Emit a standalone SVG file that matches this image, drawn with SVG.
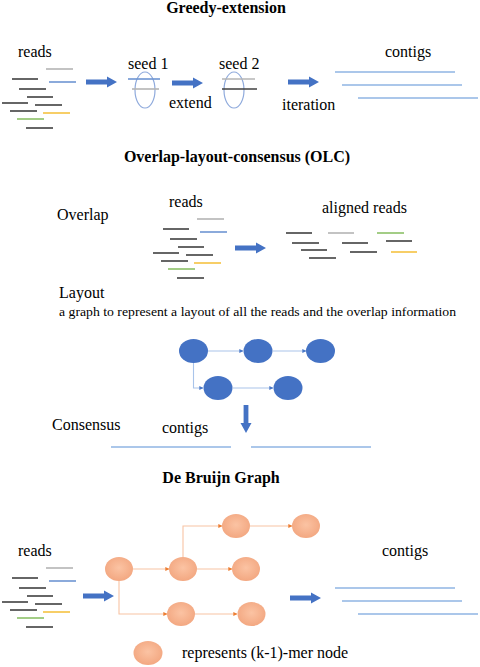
<svg xmlns="http://www.w3.org/2000/svg" width="480" height="667" viewBox="0 0 480 667" font-family="'Liberation Serif', 'DejaVu Serif', serif">
<defs>
<style>
text{font-family:"Liberation Serif","DejaVu Serif",serif;fill:#000}
.t{font-weight:bold;font-size:16px;text-anchor:middle}
.l{font-size:16px}
.s{font-size:13px}
.r{stroke-width:1.6;fill:none}
.dk{stroke:#404040}
.gy{stroke:#b4b4b4}
.bl{stroke:#6f95d2}
.gn{stroke:#8cc168}
.yl{stroke:#f5c242}
.ct{stroke:#8fb4e3;stroke-width:1.6;fill:none}
.big{fill:#4472c4}
.bn{fill:#4472c4}
.on{fill:url(#og)}
.bc{stroke:#a9c4ea;stroke-width:1.1;fill:none;marker-end:url(#ba)}
.oc{stroke:#f8c4a4;stroke-width:1.1;fill:none;marker-end:url(#oa)}
.seed{fill:none;stroke:#8faadc;stroke-width:1.2}
</style>
<radialGradient id="og" cx="50%" cy="45%" r="60%">
<stop offset="0" stop-color="#fbc3a3"/>
<stop offset="1" stop-color="#f2a57e"/>
</radialGradient>
<marker id="ba" viewBox="0 0 6 6" refX="5.5" refY="3" markerWidth="4" markerHeight="4" orient="auto" markerUnits="userSpaceOnUse">
<path d="M0,0L6,3L0,6z" fill="#4a78c8"/>
</marker>
<marker id="oa" viewBox="0 0 6 6" refX="5.5" refY="3" markerWidth="4" markerHeight="4" orient="auto" markerUnits="userSpaceOnUse">
<path d="M0,0L6,3L0,6z" fill="#ed7d31"/>
</marker>
<g id="readset">
<line class="r gy" x1="46" y1="69" x2="73" y2="69"/>
<line class="r dk" x1="12" y1="79" x2="38" y2="79"/>
<line class="r bl" x1="49" y1="82" x2="76" y2="82"/>
<line class="r dk" x1="19" y1="89" x2="46" y2="89"/>
<line class="r dk" x1="27" y1="97" x2="53" y2="97"/>
<line class="r dk" x1="2" y1="103" x2="28" y2="103"/>
<line class="r dk" x1="35" y1="105" x2="62" y2="105"/>
<line class="r dk" x1="10" y1="111" x2="37" y2="111"/>
<line class="r yl" x1="43" y1="113" x2="70" y2="113"/>
<line class="r gn" x1="17" y1="119" x2="44" y2="119"/>
<line class="r dk" x1="26" y1="128" x2="53" y2="128"/>
</g>
<g id="contigset">
<line class="ct" x1="335" y1="72" x2="455" y2="72"/>
<line class="ct" x1="342" y1="85" x2="462" y2="85"/>
<line class="ct" x1="358" y1="98" x2="478" y2="98"/>
</g>
<path id="rarrow" d="M0,-2.6H21V-5.5L31,0L21,5.5V2.6H0z"/>
</defs>
<rect width="480" height="667" fill="#fff"/>

<!-- Greedy-extension -->
<g id="greedy">
<text class="t" x="226" y="13">Greedy-extension</text>
<text class="l" x="18" y="57">reads</text>
<use href="#readset"/>
<use href="#rarrow" class="big" x="86" y="82"/>
<g id="seed1">
<text class="l" x="128" y="69">seed 1</text>
<ellipse class="seed" cx="145" cy="90" rx="10" ry="18"/>
<line class="r bl" x1="128" y1="79" x2="160" y2="79"/>
<line class="r gy" x1="132" y1="89" x2="159" y2="89"/>
</g>
<use href="#rarrow" class="big" x="172" y="83"/>
<text class="l" x="169" y="108">extend</text>
<g id="seed2">
<text class="l" x="219" y="69">seed 2</text>
<ellipse class="seed" cx="234" cy="90" rx="10" ry="18"/>
<line class="r gy" x1="222" y1="79" x2="255" y2="79"/>
<line class="r dk" x1="222" y1="89" x2="257" y2="89"/>
</g>
<use href="#rarrow" class="big" x="288" y="82"/>
<text class="l" x="282" y="110">iteration</text>
<text class="l" x="385" y="57">contigs</text>
<use href="#contigset"/>
</g>

<!-- OLC -->
<g id="olc">
<text class="t" x="237" y="162">Overlap-layout-consensus (OLC)</text>
<text class="l" x="57" y="220">Overlap</text>
<text class="l" x="169" y="207">reads</text>
<use href="#readset" x="151" y="150"/>
<use href="#rarrow" class="big" x="235" y="248"/>
<text class="l" x="322" y="213">aligned reads</text>
<g id="aligned">
<line class="r dk" x1="286" y1="233" x2="312" y2="233"/>
<line class="r gy" x1="328" y1="233" x2="354" y2="233"/>
<line class="r gn" x1="377" y1="233" x2="404" y2="233"/>
<line class="r dk" x1="292" y1="243" x2="319" y2="243"/>
<line class="r dk" x1="342" y1="243" x2="368" y2="243"/>
<line class="r dk" x1="386" y1="241" x2="412" y2="241"/>
<line class="r dk" x1="301" y1="250" x2="327" y2="250"/>
<line class="r dk" x1="350" y1="252" x2="377" y2="252"/>
<line class="r yl" x1="391" y1="252" x2="417" y2="252"/>
<line class="r dk" x1="309" y1="258" x2="336" y2="258"/>
</g>
<text class="l" x="59" y="298">Layout</text>
<text class="s" x="59" y="316" textLength="397" lengthAdjust="spacingAndGlyphs">a graph to represent a layout of all the reads and the overlap information</text>
<text class="l" x="52" y="430">Consensus</text>
<text class="l" x="162" y="433">contigs</text>
<line class="ct" x1="111" y1="447" x2="231" y2="447"/>
<line class="ct" x1="251" y1="447" x2="371" y2="447"/>
<path class="big" d="M243.6,405H248.4V423H251.5L246,433L240.5,423H243.6z"/>
</g>

<g id="olc-connectors">
<line class="bc" x1="208" y1="351" x2="243" y2="351"/>
<line class="bc" x1="273" y1="351" x2="306" y2="351"/>
<path class="bc" d="M193.5,363V388H203"/>
<line class="bc" x1="233" y1="388" x2="273" y2="388"/>
</g>
<g id="olc-n1"><ellipse class="bn" cx="193.5" cy="351" rx="14.5" ry="12"/></g>
<g id="olc-n2"><ellipse class="bn" cx="258" cy="351" rx="14.5" ry="12"/></g>
<g id="olc-n3"><ellipse class="bn" cx="320.5" cy="351" rx="14.5" ry="12"/></g>
<g id="olc-n4"><ellipse class="bn" cx="218" cy="388" rx="14.5" ry="12"/></g>
<g id="olc-n5"><ellipse class="bn" cx="288" cy="388" rx="14.5" ry="12"/></g>

<!-- De Bruijn -->
<g id="dbg">
<text class="t" x="221" y="483">De Bruijn Graph</text>
<text class="l" x="18" y="556">reads</text>
<use href="#readset" x="0" y="499"/>
<use href="#rarrow" class="big" x="83" y="596"/>
<use href="#rarrow" class="big" x="290" y="598"/>
<text class="l" x="382" y="556">contigs</text>
<use href="#contigset" x="0" y="516"/>
<text class="l" x="182" y="658">represents (k-1)-mer node</text>
</g>
<g id="dbg-connectors">
<line class="oc" x1="133" y1="569" x2="169" y2="569"/>
<line class="oc" x1="197" y1="569" x2="232" y2="569"/>
<path class="oc" d="M183,557V526H222"/>
<line class="oc" x1="250" y1="526" x2="292" y2="526"/>
<path class="oc" d="M119,581V614H167"/>
<line class="oc" x1="195" y1="614" x2="237" y2="614"/>
</g>
<g id="dbg-a"><ellipse class="on" cx="119" cy="569" rx="14" ry="12"/></g>
<g id="dbg-b"><ellipse class="on" cx="183" cy="569" rx="14" ry="12"/></g>
<g id="dbg-c"><ellipse class="on" cx="236" cy="526" rx="14" ry="12"/></g>
<g id="dbg-d"><ellipse class="on" cx="306" cy="526" rx="14" ry="12"/></g>
<g id="dbg-e"><ellipse class="on" cx="246" cy="569" rx="14" ry="12"/></g>
<g id="dbg-f"><ellipse class="on" cx="181" cy="614" rx="14" ry="12"/></g>
<g id="dbg-g"><ellipse class="on" cx="251.5" cy="614" rx="14" ry="12"/></g>
<g id="legend-node"><ellipse class="on" cx="148" cy="653" rx="14.5" ry="12"/></g>
</svg>
